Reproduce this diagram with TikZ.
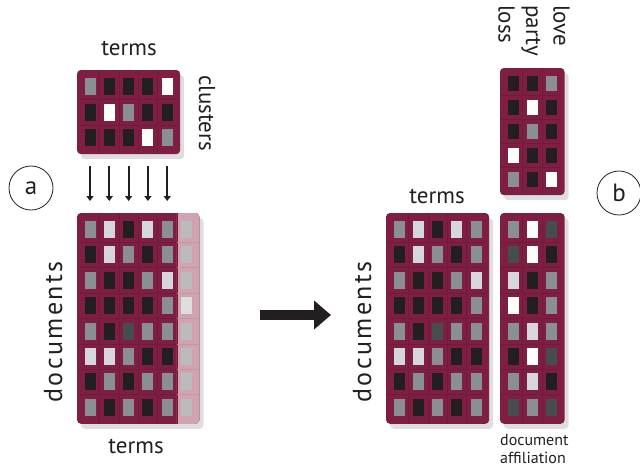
\documentclass[tikz,border=0pt]{standalone}
\usepackage{fontspec}
\setmainfont{PT Sans}
\usetikzlibrary{arrows.meta}
\definecolor{maroon}{HTML}{7F1E43}
\definecolor{gridc}{HTML}{711A3C}
\definecolor{pinkc}{HTML}{CFA4AE}
\definecolor{pinkgrid}{HTML}{C495A1}
\definecolor{shadowc}{HTML}{DEDEE0}
\definecolor{ck}{HTML}{231F20}
\definecolor{cg}{HTML}{8A8F93}
\definecolor{cl}{HTML}{D5D7DD}
\definecolor{cw}{HTML}{FFFFFA}
\definecolor{cd}{HTML}{464D4F}
\definecolor{cp}{HTML}{BBBBBE}
\definecolor{cq}{HTML}{DEDEDF}
\definecolor{ink}{HTML}{231F20}
% #1 x0, #2 y0, #3 ncol, #4 nrow, #5 row pitch, #6 maroon columns, #7 rows
\newcommand\drawmat[7]{%
  \pgfmathsetmacro\mxe{#1+26+19.3*(#3-1)}%
  \pgfmathsetmacro\mmar{#5*0.65}%
  \pgfmathsetmacro\mye{#2+2*\mmar+#5*(#4-1)}%
  \pgfmathsetmacro\mch{#5-8.5}%
  \fill[shadowc, rounded corners=4] (#1+4,#2+5) rectangle (\mxe+4,\mye+5);
  \fill[maroon, rounded corners=4] (#1,#2) rectangle (\mxe,\mye);
  \ifnum#6<#3\relax
    \begin{scope}
      \clip ({#1+13+19.3*(#6-0.5)},#2-1) rectangle (\mxe+10,\mye+1);
      \fill[pinkc, rounded corners=4] (#1,#2) rectangle (\mxe,\mye);
    \end{scope}
  \fi
  \pgfmathtruncatemacro\mnc{#3-1}%
  \pgfmathtruncatemacro\mnr{#4-1}%
  \foreach \i in {1,...,\mnc} {
    \draw[gridc, line width=0.5] ({#1+13+19.3*(\i-0.5)},#2) -- ({#1+13+19.3*(\i-0.5)},\mye);
  }
  \foreach \j in {1,...,\mnr} {
    \draw[gridc, line width=0.5] (#1,{#2+\mmar+#5*(\j-0.5)}) -- ({#1+13+19.3*(#6-0.5)},{#2+\mmar+#5*(\j-0.5)});
    \ifnum#6<#3\relax
      \draw[pinkgrid, line width=0.5] ({#1+13+19.3*(#6-0.5)},{#2+\mmar+#5*(\j-0.5)}) -- (\mxe,{#2+\mmar+#5*(\j-0.5)});
    \fi
  }
  \foreach \r [count=\j from 0] in {#7} {
    \foreach \c [count=\i from 0] in \r {
      \fill[fill=c\c] ({#1+13+19.3*\i-5.5},{#2+\mmar+#5*\j-\mch/2}) rectangle ++(11,\mch);
    }
  }
}
\tikzset{
  lbl/.style={text=ink, font=\fontsize{23}{27.5}\selectfont, inner sep=0},
  doclbl/.style={lbl, font=\fontsize{26}{30}\selectfont\addfontfeature{LetterSpace=9}},
  smalllbl/.style={text=ink, font=\fontsize{16}{18}\selectfont, inner sep=0},
  circlbl/.style={circle, draw=ink, text=ink, line width=0.8, minimum size=44, inner sep=0, font=\fontsize{25}{28}\selectfont},
  downarrow/.style={draw=ink, line width=2.2, -{Triangle[width=7pt,length=5pt]}},
  bigarrow/.style={draw=ink, line width=10, -{Triangle[width=28pt,length=17pt]}},
}
\begin{document}
\begin{tikzpicture}[x=1pt, y=-1pt]
\useasboundingbox (0,0) rectangle (640,467);
% matrices
\drawmat{77}{70}{5}{3}{25.5}{5}{{g,k,k,k,w},{k,w,g,k,k},{k,k,k,w,g}}
\drawmat{77}{213}{6}{8}{25.4}{5}{{g,l,k,l,g,p},{k,l,g,k,g,p},{g,k,k,g,l,p},{k,k,k,k,g,q},{g,k,d,g,g,p},{l,l,g,k,k,p},{k,g,k,g,g,p},{g,k,g,k,g,p}}
\drawmat{386}{213}{5}{8}{25.4}{5}{{g,l,k,l,g},{k,l,g,k,g},{g,k,k,g,l},{k,k,k,k,g},{g,k,d,g,g},{l,l,g,k,k},{k,g,k,g,g},{g,k,g,k,g}}
\drawmat{500}{213}{3}{8}{25.4}{3}{{g,w,d},{d,w,k},{l,k,g},{w,k,g},{g,l,g},{k,w,d},{g,l,k},{d,g,d}}
\drawmat{500}{68}{3}{5}{24}{3}{{k,k,g},{k,w,k},{k,g,k},{w,k,k},{g,k,w}}
% labels
\node[lbl, anchor=base] (termstop) at (129,55) {terms};
\node[lbl, anchor=base, rotate=-90] (clusters) at (199,113) {clusters};
\node[doclbl, anchor=base, rotate=90] (docleft) at (62,332) {documents};
\node[lbl, anchor=base] (termsbot) at (136,453) {terms};
\node[lbl, anchor=base] (termsright) at (437,203) {terms};
\node[doclbl, anchor=base, rotate=90] (docright) at (371,332) {documents};
\node[lbl, anchor=north west, align=left, rotate=-90] (words) at (570,5) {love\\party\\loss};
\node[smalllbl, anchor=north west, align=left] (docaff) at (500,434) {document\\affiliation};
\node[circlbl] (ca) at (31,188) {a};
\node[circlbl] (cb) at (619,193) {b};
% arrows
\foreach \i in {0,...,4} {
  \coordinate (ds\i) at ({90+19.3*\i},166);
  \coordinate (de\i) at ({90+19.3*\i},201);
  \draw[downarrow] (ds\i) -- (de\i);
}
\coordinate (ba) at (260,315);
\coordinate (bb) at (331,315);
\draw[bigarrow] (ba) -- (bb);
\end{tikzpicture}
\end{document}
